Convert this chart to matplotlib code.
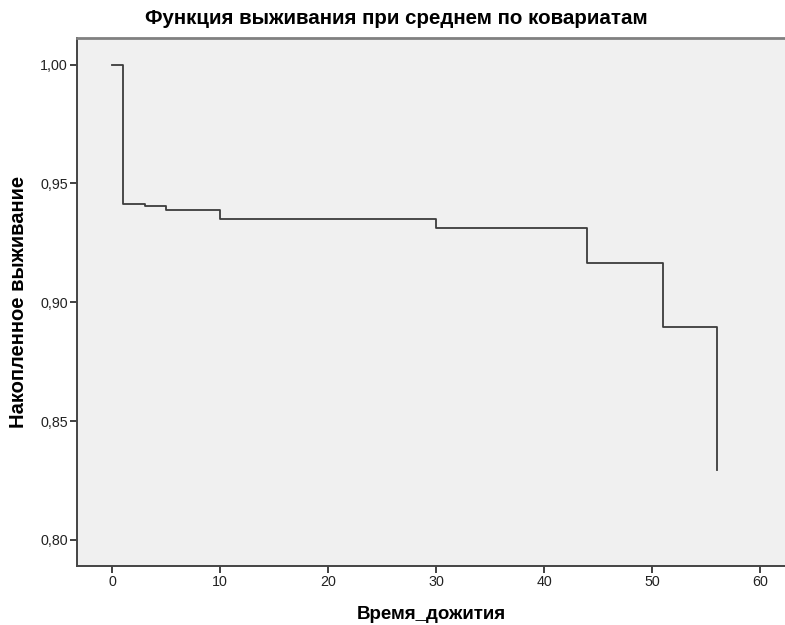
import matplotlib
matplotlib.use('Agg')
import matplotlib.pyplot as plt
from matplotlib.ticker import FuncFormatter

plt.rcParams['font.family'] = ['Liberation Sans', 'DejaVu Sans']

# Время дожития и накопленное выживание (ступенчатая функция)
times = [0, 1, 3, 5, 10, 30, 44, 51, 56]
survival = [1.0, 0.9415, 0.9405, 0.9388, 0.9352, 0.9311, 0.9167, 0.8896, 0.8294]

x_ticks = [0, 10, 20, 30, 40, 50, 60]
y_ticks = [0.80, 0.85, 0.90, 0.95, 1.00]

fig = plt.figure(figsize=(7.85, 6.25), dpi=100)
ax = fig.add_axes([0.0981, 0.0944, 0.9019, 0.8453])
ax.set_facecolor('#f0f0f0')

ax.plot(times, survival, drawstyle='steps-post', color='#3c3c3c', linewidth=1.3)

ax.set_xlim(-3.27, 62.3)
ax.set_ylim(0.789, 1.0113)
ax.set_xticks(x_ticks)
ax.set_yticks(y_ticks)
ax.yaxis.set_major_formatter(FuncFormatter(lambda v, p: f'{v:.2f}'.replace('.', ',')))
ax.tick_params(direction='out', length=5, width=1.3, color='#333333', pad=1.5,
               labelsize=10.3, labelcolor='#222222')

for side in ['left', 'bottom']:
    ax.spines[side].set_color('#444444')
    ax.spines[side].set_linewidth(1.4)
ax.spines['top'].set_color('#808080')
ax.spines['top'].set_linewidth(2)
ax.spines['right'].set_visible(False)

ax.set_xlabel('Время_дожития', fontsize=13.5, fontweight='bold', labelpad=12)
ax.set_ylabel('Накопленное выживание', fontsize=14.5, fontweight='bold', labelpad=9)
fig.text(0.505, 0.971, 'Функция выживания при среднем по ковариатам',
         ha='center', va='center', fontsize=14.8, fontweight='bold')

fig.savefig('out.png', dpi=100)
